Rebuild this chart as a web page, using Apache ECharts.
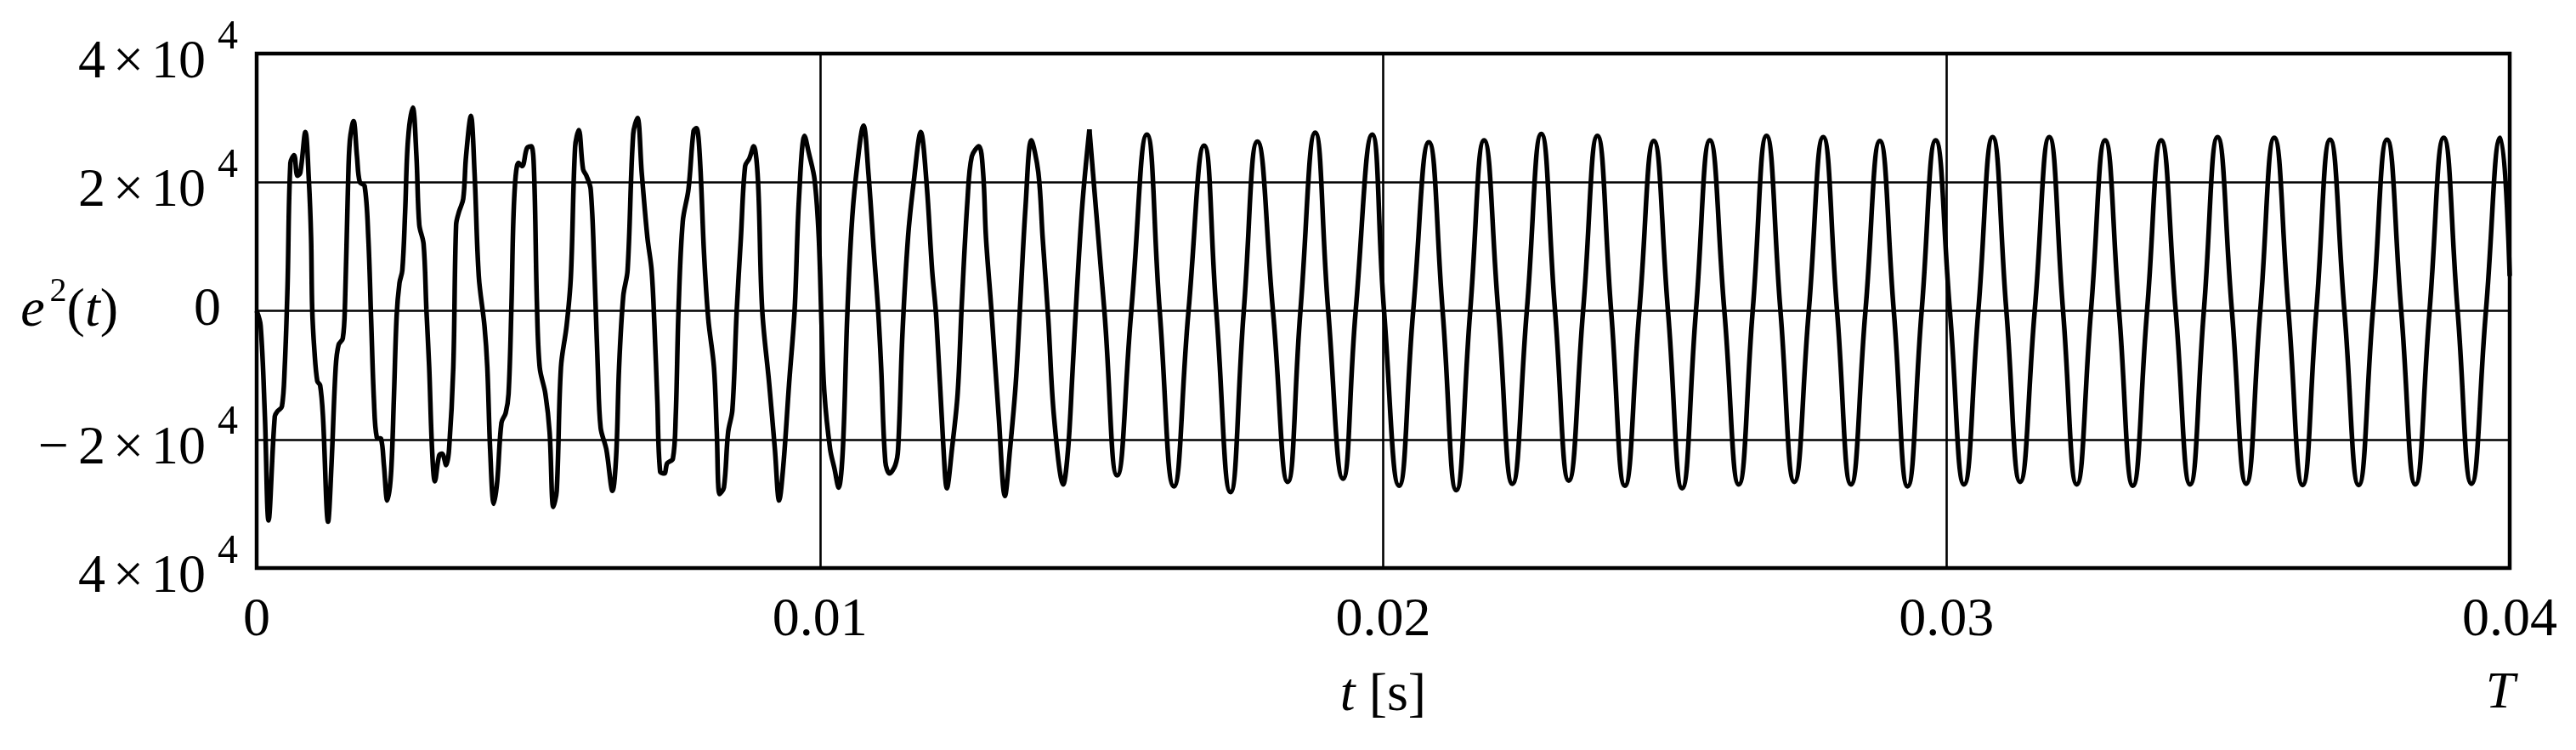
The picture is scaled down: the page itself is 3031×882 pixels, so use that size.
<!DOCTYPE html>
<html>
<head>
<meta charset="utf-8">
<script src="https://cdn.jsdelivr.net/npm/echarts@6/dist/echarts.min.js"></script>
<style>
html,body{margin:0;padding:0;background:#fff;}
#chart{width:3031px;height:882px;}
</style>
</head>
<body>
<div id="chart"></div>
<script>
// Time in milliseconds, value of e^2(t).
const transientPts = [
[0,0],[0.07,-2300],[0.146,-16400],[0.211,-32600],[0.322,-16400],[0.372,-15600],[0.448,-14900],
[0.498,-8800],[0.548,3800],[0.599,23000],[0.664,24200],[0.724,21000],[0.775,21500],[0.865,27800],
[0.926,20400],[0.966,11400],[0.986,300],[1.026,-6300],[1.076,-10900],[1.127,-11600],[1.177,-16400],
[1.268,-32800],[1.328,-24000],[1.403,-8800],[1.454,-5300],[1.529,-4300],[1.569,1300],[1.620,18900],
[1.655,26500],[1.720,29500],[1.781,24000],[1.831,20000],[1.917,19400],[1.982,11400],[2.032,-1300],
[2.082,-13900],[2.133,-19700],[2.208,-19900],[2.259,-24000],[2.319,-29500],[2.384,-25500],[2.435,-13900],
[2.485,-800],[2.535,4300],[2.586,6300],[2.636,15400],[2.686,26500],[2.772,31600],[2.837,24000],
[2.887,13400],[2.963,10400],[3.013,300],[3.063,-8800],[3.114,-21500],[3.164,-26500],[3.239,-22500],
[3.290,-22200],[3.365,-24000],[3.416,-21500],[3.491,-8800],[3.541,13400],[3.592,15400],[3.667,17400],
[3.717,24000],[3.803,30300],[3.868,21500],[3.944,5300],[4.044,-2300],[4.095,-8800],[4.145,-21500],
[4.210,-30000],[4.271,-26500],[4.346,-17400],[4.421,-15900],[4.472,-12900],[4.522,300],[4.572,17400],
[4.648,23000],[4.713,22500],[4.799,25300],[4.874,25600],[4.925,21500],[4.975,1300],[5.025,-8800],
[5.126,-12900],[5.201,-18900],[5.267,-30500],[5.327,-28000],[5.402,-8800],[5.503,-2300],[5.578,5300],
[5.654,25500],[5.719,28100],[5.795,22000],[5.855,21000],[5.930,18900],[5.996,6300],[6.056,-8800],
[6.107,-18200],[6.207,-21500],[6.318,-28000],[6.383,-22500],[6.434,-8800],[6.509,2300],[6.585,6300],
[6.685,27500],[6.761,30000],[6.836,21500],[6.937,11400],[7.012,6300],[7.062,-2300],[7.113,-13900],
[7.163,-25000],[7.238,-25300],[7.289,-23700],[7.389,-23000],[7.440,-16400],[7.490,300],[7.565,13900],
[7.666,18900],[7.757,28000],[7.807,28400],[7.867,24000],[7.943,8800],[8.018,-1300],[8.119,-8800],
[8.169,-18900],[8.219,-28500],[8.295,-27500],[8.370,-18900],[8.446,-15400],[8.521,-300],[8.597,11400],
[8.672,22500],[8.748,23700],[8.823,25600],[8.899,20400],[8.974,300],[9.100,-11400],[9.200,-21500],
[9.276,-29500],[9.351,-24000],[9.452,-11400],[9.552,300],[9.628,17400],[9.728,27200],[9.804,24500],
[9.905,20400],[9.980,11400],[10.030,-2300],[10.080,-12900],[10.181,-21500],[10.257,-24500],[10.332,-27500],
[10.407,-21500],[10.483,-1300],[10.558,12400],[10.634,20400],[10.775,28800],[10.860,21500],[10.961,8800],
[11.036,-300],[11.087,-8800],[11.162,-23500],[11.237,-25300],[11.338,-24000],[11.388,-21500],[11.464,-3800],
[11.564,11400],[11.665,20000],[11.791,27800],[11.892,20000],[11.992,6300],[12.068,-1300],[12.194,-21500],
[12.254,-27600],[12.344,-21500],[12.445,-12900],[12.520,1300],[12.621,17400],[12.696,24000],[12.822,25600],
[12.897,21500],[12.948,11400],[13.048,-300],[13.174,-16400],[13.285,-28800],[13.375,-21500],[13.476,-11400],
[13.551,300],[13.652,16400],[13.753,26500],[13.878,21500],[13.954,11400],[14.054,-1300],[14.155,-16400],
[14.321,-27000],[14.406,-21500],[14.482,-9900],[14.557,2300],[14.658,16400],[14.784,28200]
];
const steadyPts = [
[14.784,28200],[15.050,0],[15.277,-25600],[15.528,0],[15.805,27400],[16.032,0],[16.283,-27300],[16.544,0],
[16.821,25700],[17.037,0],[17.289,-28200],[17.525,0],[17.767,26300],[18.043,0],[18.305,-26600],[18.531,0],
[18.793,27700],[19.024,0],[19.286,-26100],[19.512,0],[19.804,27400],[20.015,0],[20.282,-27200],[20.533,0],
[20.810,26200],[21.055,0],[21.298,-27900],[21.545,0],[21.791,26500],[22.043,0],[22.294,-26900],[22.550,0],
[22.807,27500],[23.051,0],[23.295,-26400],[23.549,0],[23.803,27200],[24.047,0],[24.291,-27200],[24.548,0],
[24.804,26400],[25.056,0],[25.307,-27600],[25.553,0],[25.800,26500],[26.057,0],[26.313,-27000],[26.560,0],
[26.806,27200],[27.053,0],[27.299,-26600],[27.556,0],[27.812,27000],[28.058,0],[28.305,-27000],[28.562,0],
[28.818,26400],[29.065,0],[29.311,-27300],[29.560,0],[29.809,26500],[30.061,0],[30.312,-27000],[30.566,0],
[30.820,27000],[31.064,0],[31.308,-26600],[31.567,0],[31.826,27000],[32.070,0],[32.314,-27000],[32.566,0],
[32.817,26500],[33.064,0],[33.310,-27200],[33.562,0],[33.813,26500],[34.070,0],[34.326,-27000],[34.570,0],
[34.814,27000],[35.068,0],[35.322,-26900],[35.571,0],[35.820,26900],[36.072,0],[36.323,-27100],[36.567,0],
[36.811,26600],[37.065,0],[37.319,-27100],[37.571,0],[37.822,26600],[38.074,0],[38.325,-27000],[38.577,0],
[38.828,26900],[39.075,0],[39.321,-26900],[39.578,0],[39.834,26900],[40.0,5400]
];
const xTicks = [0, 0.01, 0.02, 0.03, 0.04];
const xTickLabels = ['0', '0.01', '0.02', '0.03', '0.04'];
const yTicks = [-40000, -20000, 0, 20000, 40000];
// note: the reference prints the bottom label without a minus sign
const yTickLabels = [
  '{m|4}{x|\u00d7}{m|10}{s|4}',
  '{n|\u2212}{m|2}{x|\u00d7}{m|10}{s|4}',
  '{z|0}',
  '{m|2}{x|\u00d7}{m|10}{s|4}',
  '{m|4}{x|\u00d7}{m|10}{s|4}'
];

const F = 'Liberation Serif';
const toSeries = pts => pts.map(p => [p[0] / 1000, p[1]]);

const chart = echarts.init(document.getElementById('chart'), null, {renderer: 'canvas'});
chart.setOption({
  animation: false,
  backgroundColor: '#fff',
  grid: {left: 302, right: 78, top: 63, bottom: 214, show: true, borderColor: '#000', borderWidth: 4.5, backgroundColor: 'transparent'},
  xAxis: {
    type: 'value', min: 0, max: 0.04, interval: 0.01,
    axisLine: {show: false}, axisTick: {show: false},
    splitLine: {show: true, lineStyle: {color: '#000', width: 2.6}},
    axisLabel: {
      margin: 30, color: '#000', fontFamily: F, fontSize: 64,
      formatter: v => { const i = xTicks.findIndex(t => Math.abs(t - v) < 1e-9); return i >= 0 ? xTickLabels[i] : ''; }
    },
    name: '{i|t}{n| [s]}', nameLocation: 'middle', nameGap: 118,
    nameTextStyle: {
      color: '#000', fontFamily: F, fontSize: 64, lineHeight: 64,
      rich: {
        i: {fontFamily: F, fontSize: 64, fontStyle: 'italic', color: '#000'},
        n: {fontFamily: F, fontSize: 64, color: '#000'}
      }
    }
  },
  yAxis: {
    type: 'value', min: -40000, max: 40000, interval: 20000,
    axisLine: {show: false}, axisTick: {show: false},
    splitLine: {show: true, lineStyle: {color: '#000', width: 2.6}},
    axisLabel: {
      margin: 22, color: '#000', fontFamily: F, fontSize: 64,
      formatter: v => { const i = yTicks.indexOf(Math.round(v)); return i >= 0 ? yTickLabels[i] : ''; },
      rich: {
        m: {fontFamily: F, fontSize: 64, height: 64, lineHeight: 86, verticalAlign: 'bottom', color: '#000'},
        x: {fontFamily: F, fontSize: 64, height: 64, lineHeight: 86, verticalAlign: 'bottom', color: '#000', padding: [0, 9, 0, 9]},
        n: {fontFamily: F, fontSize: 64, height: 64, lineHeight: 86, verticalAlign: 'bottom', color: '#000', padding: [0, 11, 0, 0]},
        s: {fontFamily: F, fontSize: 48, height: 48, verticalAlign: 'top', color: '#000', padding: [0, 0, 0, 14]},
        z: {fontFamily: F, fontSize: 64, color: '#000', padding: [0, 20, 0, 0]}
      }
    }
  },
  graphic: [
    {
      type: 'text', x: 139, y: 361, silent: true,
      style: {
        text: '{i|e}{s|2}{n|(}{i|t}{n|)}',
        align: 'right', verticalAlign: 'middle', textAlign: 'right', textVerticalAlign: 'middle',
        fill: '#000',
        rich: {
          i: {fontFamily: F, fontSize: 64, fontStyle: 'italic', height: 64, lineHeight: 75, verticalAlign: 'bottom', fill: '#000'},
          n: {fontFamily: F, fontSize: 64, height: 64, lineHeight: 75, verticalAlign: 'bottom', fill: '#000'},
          s: {fontFamily: F, fontSize: 40, height: 40, verticalAlign: 'top', fill: '#000', padding: [0, 0, 0, 6]}
        }
      }
    },
    {
      type: 'text', x: 2942, y: 816, silent: true,
      style: {
        text: 'T', fontFamily: F, fontSize: 62, fontStyle: 'italic', fill: '#000',
        font: 'italic 62px "Liberation Serif"',
        align: 'center', verticalAlign: 'middle', textAlign: 'center', textVerticalAlign: 'middle'
      }
    }
  ],
  series: [
    {
      type: 'line', data: toSeries(transientPts), showSymbol: false, smooth: 0.35,
      lineStyle: {color: '#000', width: 5.5}, z: 3
    },
    {
      type: 'line', data: toSeries(steadyPts), showSymbol: false, smooth: 0.5,
      lineStyle: {color: '#000', width: 5.5}, z: 3
    }
  ]
});
</script>
</body>
</html>
